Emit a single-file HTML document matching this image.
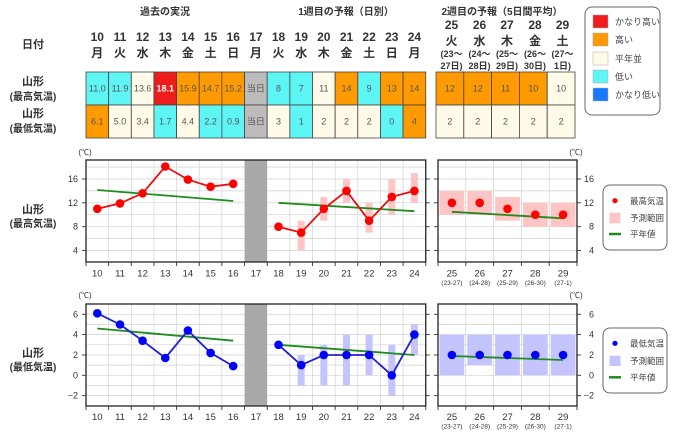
<!DOCTYPE html>
<html><head><meta charset="utf-8">
<style>
html,body{margin:0;padding:0;background:#fff;}
svg{display:block;}
text{font-family:"Liberation Sans","Noto Sans CJK JP",sans-serif;}
</style></head>
<body>
<svg width="680" height="435" viewBox="0 0 680 435" xmlns="http://www.w3.org/2000/svg">
<rect width="680" height="435" fill="#fff"/>

<!-- Section headers -->
<g font-size="10" font-weight="bold" fill="#333" text-anchor="middle">
<text x="165" y="15">過去の実況</text>
<text x="346" y="15">1週目の予報（日別）</text>
<text x="502" y="15">2週目の予報（5日間平均）</text>
</g>

<!-- Left labels top table -->
<g font-weight="bold" fill="#333" text-anchor="middle">
<text x="33" y="48" font-size="11">日付</text>
<text x="33" y="85" font-size="11">山形</text>
<text x="33" y="100" font-size="10">(最高気温)</text>
<text x="33" y="117" font-size="11">山形</text>
<text x="33" y="132" font-size="10">(最低気温)</text>
</g>

<!-- Day numbers week1 -->
<g font-size="12" font-weight="bold" fill="#333" text-anchor="middle">
<text x="97.3" y="41">10</text><text x="120" y="41">11</text><text x="142.6" y="41">12</text><text x="165.3" y="41">13</text><text x="187.9" y="41">14</text><text x="210.6" y="41">15</text><text x="233.2" y="41">16</text><text x="255.9" y="41">17</text><text x="278.5" y="41">18</text><text x="301.2" y="41">19</text><text x="323.8" y="41">20</text><text x="346.5" y="41">21</text><text x="369.1" y="41">22</text><text x="391.8" y="41">23</text><text x="414.4" y="41">24</text>
<text x="97.3" y="57">月</text><text x="120" y="57">火</text><text x="142.6" y="57">水</text><text x="165.3" y="57">木</text><text x="187.9" y="57">金</text><text x="210.6" y="57">土</text><text x="233.2" y="57">日</text><text x="255.9" y="57">月</text><text x="278.5" y="57">火</text><text x="301.2" y="57">水</text><text x="323.8" y="57">木</text><text x="346.5" y="57">金</text><text x="369.1" y="57">土</text><text x="391.8" y="57">日</text><text x="414.4" y="57">月</text>
<!-- week2 -->
<text x="451.5" y="29">25</text><text x="479.5" y="29">26</text><text x="507" y="29">27</text><text x="535" y="29">28</text><text x="562.5" y="29">29</text>
<text x="451.5" y="45">火</text><text x="479.5" y="45">水</text><text x="507" y="45">木</text><text x="535" y="45">金</text><text x="562.5" y="45">土</text>
</g>
<g font-size="9" font-weight="bold" fill="#333" text-anchor="middle">
<text x="451.5" y="57">(23〜</text><text x="479.5" y="57">(24〜</text><text x="507" y="57">(25〜</text><text x="535" y="57">(26〜</text><text x="562.5" y="57">(27〜</text>
<text x="451.5" y="69">27日)</text><text x="479.5" y="69">28日)</text><text x="507" y="69">29日)</text><text x="535" y="69">30日)</text><text x="562.5" y="69">1日)</text>
</g>

<!-- Table cells -->
<g stroke="#444" stroke-width="0.8">
<!-- row1 -->
<rect x="86" y="72" width="22.65" height="33" fill="#5ef5f5"/>
<rect x="108.65" y="72" width="22.65" height="33" fill="#5ef5f5"/>
<rect x="131.3" y="72" width="22.65" height="33" fill="#fffbe8"/>
<rect x="153.95" y="72" width="22.65" height="33" fill="#ee1c1c"/>
<rect x="176.6" y="72" width="22.65" height="33" fill="#ff9a00"/>
<rect x="199.25" y="72" width="22.65" height="33" fill="#ff9a00"/>
<rect x="221.9" y="72" width="22.65" height="33" fill="#ff9a00"/>
<rect x="244.55" y="72" width="22.65" height="33" fill="#bcbcbc"/>
<rect x="267.2" y="72" width="22.65" height="33" fill="#5ef5f5"/>
<rect x="289.85" y="72" width="22.65" height="33" fill="#5ef5f5"/>
<rect x="312.5" y="72" width="22.65" height="33" fill="#fffbe8"/>
<rect x="335.15" y="72" width="22.65" height="33" fill="#ff9a00"/>
<rect x="357.8" y="72" width="22.65" height="33" fill="#5ef5f5"/>
<rect x="380.45" y="72" width="22.65" height="33" fill="#ff9a00"/>
<rect x="403.1" y="72" width="22.65" height="33" fill="#ff9a00"/>
<!-- row2 -->
<rect x="86" y="105" width="22.65" height="33" fill="#ff9a00"/>
<rect x="108.65" y="105" width="22.65" height="33" fill="#fffbe8"/>
<rect x="131.3" y="105" width="22.65" height="33" fill="#fffbe8"/>
<rect x="153.95" y="105" width="22.65" height="33" fill="#5ef5f5"/>
<rect x="176.6" y="105" width="22.65" height="33" fill="#fffbe8"/>
<rect x="199.25" y="105" width="22.65" height="33" fill="#5ef5f5"/>
<rect x="221.9" y="105" width="22.65" height="33" fill="#5ef5f5"/>
<rect x="244.55" y="105" width="22.65" height="33" fill="#bcbcbc"/>
<rect x="267.2" y="105" width="22.65" height="33" fill="#fffbe8"/>
<rect x="289.85" y="105" width="22.65" height="33" fill="#5ef5f5"/>
<rect x="312.5" y="105" width="22.65" height="33" fill="#fffbe8"/>
<rect x="335.15" y="105" width="22.65" height="33" fill="#fffbe8"/>
<rect x="357.8" y="105" width="22.65" height="33" fill="#fffbe8"/>
<rect x="380.45" y="105" width="22.65" height="33" fill="#5ef5f5"/>
<rect x="403.1" y="105" width="22.65" height="33" fill="#ff9a00"/>
<!-- week2 -->
<rect x="436" y="72" width="27.8" height="33" fill="#ff9a00"/>
<rect x="463.8" y="72" width="27.8" height="33" fill="#ff9a00"/>
<rect x="491.6" y="72" width="27.8" height="33" fill="#ff9a00"/>
<rect x="519.4" y="72" width="27.8" height="33" fill="#ff9a00"/>
<rect x="547.2" y="72" width="27.8" height="33" fill="#fffbe8"/>
<rect x="436" y="105" width="27.8" height="33" fill="#fffbe8"/>
<rect x="463.8" y="105" width="27.8" height="33" fill="#fffbe8"/>
<rect x="491.6" y="105" width="27.8" height="33" fill="#fffbe8"/>
<rect x="519.4" y="105" width="27.8" height="33" fill="#fffbe8"/>
<rect x="547.2" y="105" width="27.8" height="33" fill="#fffbe8"/>
</g>
<g font-size="9" fill="#555" text-anchor="middle">
<text x="97.3" y="91.5">11.0</text><text x="120" y="91.5">11.9</text><text x="142.6" y="91.5">13.6</text>
<text x="165.3" y="91.5" fill="#fff" font-weight="bold">18.1</text>
<text x="187.9" y="91.5">15.9</text><text x="210.6" y="91.5">14.7</text><text x="233.2" y="91.5">15.2</text><text x="255.9" y="91.5">当日</text>
<text x="278.5" y="91.5">8</text><text x="301.2" y="91.5">7</text><text x="323.8" y="91.5">11</text><text x="346.5" y="91.5">14</text><text x="369.1" y="91.5">9</text><text x="391.8" y="91.5">13</text><text x="414.4" y="91.5">14</text>
<text x="97.3" y="124.5">6.1</text><text x="120" y="124.5">5.0</text><text x="142.6" y="124.5">3.4</text><text x="165.3" y="124.5">1.7</text><text x="187.9" y="124.5">4.4</text><text x="210.6" y="124.5">2.2</text><text x="233.2" y="124.5">0.9</text><text x="255.9" y="124.5">当日</text>
<text x="278.5" y="124.5">3</text><text x="301.2" y="124.5">1</text><text x="323.8" y="124.5">2</text><text x="346.5" y="124.5">2</text><text x="369.1" y="124.5">2</text><text x="391.8" y="124.5">0</text><text x="414.4" y="124.5">4</text>
<text x="449.9" y="91.5">12</text><text x="477.7" y="91.5">12</text><text x="505.5" y="91.5">11</text><text x="533.3" y="91.5">10</text><text x="561.1" y="91.5">10</text>
<text x="449.9" y="124.5">2</text><text x="477.7" y="124.5">2</text><text x="505.5" y="124.5">2</text><text x="533.3" y="124.5">2</text><text x="561.1" y="124.5">2</text>
</g>

<!-- Color legend -->
<rect x="585" y="7" width="75" height="108" rx="7" fill="#fff" stroke="#666" stroke-width="1"/>
<g stroke="#aaa" stroke-width="0.5">
<rect x="593" y="15" width="15" height="13" fill="#ee1c1c"/>
<rect x="593" y="33" width="15" height="13" fill="#ff9a00"/>
<rect x="593" y="52" width="15" height="13" fill="#fffbe8"/>
<rect x="593" y="70" width="15" height="13" fill="#5ef5f5"/>
<rect x="593" y="88" width="15" height="13" fill="#1a7aff"/>
</g>
<g font-size="9" fill="#444">
<text x="615" y="25">かなり高い</text>
<text x="615" y="43">高い</text>
<text x="615" y="62">平年並</text>
<text x="615" y="80">低い</text>
<text x="615" y="98">かなり低い</text>
</g>

<!-- ================= CHART 1 (max) ================= -->
<g font-weight="bold" fill="#333" text-anchor="middle">
<text x="33" y="213" font-size="11">山形</text>
<text x="33" y="227" font-size="10">(最高気温)</text>
<text x="33" y="356.5" font-size="11">山形</text>
<text x="33" y="370.5" font-size="10">(最低気温)</text>
</g>
<g font-size="8" fill="#333" text-anchor="middle">
<text x="85" y="155">(℃)</text><text x="576" y="155">(℃)</text>
<text x="85" y="298">(℃)</text><text x="576" y="298">(℃)</text>
</g>

<!-- grid week1 chart1 -->
<g stroke="#d2d2d2" stroke-width="0.7">
<line x1="86" x2="425.75" y1="167.1" y2="167.1"/><line x1="86" x2="425.75" y1="179" y2="179"/><line x1="86" x2="425.75" y1="190.9" y2="190.9"/><line x1="86" x2="425.75" y1="202.8" y2="202.8"/><line x1="86" x2="425.75" y1="214.7" y2="214.7"/><line x1="86" x2="425.75" y1="226.7" y2="226.7"/><line x1="86" x2="425.75" y1="238.6" y2="238.6"/><line x1="86" x2="425.75" y1="250.5" y2="250.5"/>
<line x1="108.65" x2="108.65" y1="160" y2="262"/><line x1="131.3" x2="131.3" y1="160" y2="262"/><line x1="153.95" x2="153.95" y1="160" y2="262"/><line x1="176.6" x2="176.6" y1="160" y2="262"/><line x1="199.25" x2="199.25" y1="160" y2="262"/><line x1="221.9" x2="221.9" y1="160" y2="262"/><line x1="289.85" x2="289.85" y1="160" y2="262"/><line x1="312.5" x2="312.5" y1="160" y2="262"/><line x1="335.15" x2="335.15" y1="160" y2="262"/><line x1="357.8" x2="357.8" y1="160" y2="262"/><line x1="380.45" x2="380.45" y1="160" y2="262"/><line x1="403.1" x2="403.1" y1="160" y2="262"/>
<!-- week2 -->
<line x1="438" x2="577" y1="167.1" y2="167.1"/><line x1="438" x2="577" y1="179" y2="179"/><line x1="438" x2="577" y1="190.9" y2="190.9"/><line x1="438" x2="577" y1="202.8" y2="202.8"/><line x1="438" x2="577" y1="214.7" y2="214.7"/><line x1="438" x2="577" y1="226.7" y2="226.7"/><line x1="438" x2="577" y1="238.6" y2="238.6"/><line x1="438" x2="577" y1="250.5" y2="250.5"/>
<line x1="465.8" x2="465.8" y1="160" y2="262"/><line x1="493.6" x2="493.6" y1="160" y2="262"/><line x1="521.4" x2="521.4" y1="160" y2="262"/><line x1="549.2" x2="549.2" y1="160" y2="262"/>
</g>
<rect x="244.55" y="160" width="22.65" height="102" fill="#a9a9a9"/>
<!-- pink ranges -->
<g fill="#ffc4c4">
<rect x="297.7" y="220.7" width="7" height="29.8"/>
<rect x="320.3" y="196.9" width="7" height="23.8"/>
<rect x="343" y="179" width="7" height="23.8"/>
<rect x="365.6" y="202.8" width="7" height="29.8"/>
<rect x="388.3" y="179" width="7" height="35.7"/>
<rect x="410.9" y="173" width="7" height="29.8"/>
<rect x="439.5" y="190.9" width="24.8" height="23.8"/>
<rect x="467.3" y="190.9" width="24.8" height="23.8"/>
<rect x="495.1" y="196.9" width="24.8" height="23.8"/>
<rect x="522.9" y="202.8" width="24.8" height="23.9"/>
<rect x="550.7" y="202.8" width="24.8" height="23.9"/>
</g>
<g stroke="#1e8c1e" stroke-width="1.8" fill="none">
<line x1="97.3" y1="190" x2="233.2" y2="201"/>
<line x1="278.5" y1="202.8" x2="414.4" y2="211.2"/>
<line x1="451.9" y1="211.8" x2="563.1" y2="218.3"/>
</g>
<g stroke="#e81010" stroke-width="1.8" fill="none">
<polyline points="97.3,208.8 120,203.4 142.6,193.3 165.3,166.5 187.9,179.6 210.6,186.7 233.2,183.8"/>
<polyline points="278.5,226.7 301.2,232.6 323.8,208.8 346.5,190.9 369.1,220.7 391.8,196.9 414.4,190.9"/>
</g>
<g fill="#ff0000">
<circle cx="97.3" cy="208.8" r="4.3"/><circle cx="120" cy="203.4" r="4.3"/><circle cx="142.6" cy="193.3" r="4.3"/><circle cx="165.3" cy="166.5" r="4.3"/><circle cx="187.9" cy="179.6" r="4.3"/><circle cx="210.6" cy="186.7" r="4.3"/><circle cx="233.2" cy="183.8" r="4.3"/>
<circle cx="278.5" cy="226.7" r="4.3"/><circle cx="301.2" cy="232.6" r="4.3"/><circle cx="323.8" cy="208.8" r="4.3"/><circle cx="346.5" cy="190.9" r="4.3"/><circle cx="369.1" cy="220.7" r="4.3"/><circle cx="391.8" cy="196.9" r="4.3"/><circle cx="414.4" cy="190.9" r="4.3"/>
<circle cx="451.9" cy="202.8" r="4.3"/><circle cx="479.7" cy="202.8" r="4.3"/><circle cx="507.5" cy="208.8" r="4.3"/><circle cx="535.3" cy="214.7" r="4.3"/><circle cx="563.1" cy="214.7" r="4.3"/>
</g>
<!-- frames & ticks chart1 -->
<g stroke="#222" stroke-width="1.3" fill="none">
<rect x="86" y="160" width="339.75" height="102"/>
<rect x="438" y="160" width="139" height="102"/>
</g>
<g stroke="#333" stroke-width="0.9">
<line x1="82" x2="86" y1="179" y2="179"/><line x1="82" x2="86" y1="202.8" y2="202.8"/><line x1="82" x2="86" y1="226.7" y2="226.7"/><line x1="82" x2="86" y1="250.5" y2="250.5"/>
<line x1="425.75" x2="429.75" y1="179" y2="179"/><line x1="425.75" x2="429.75" y1="202.8" y2="202.8"/><line x1="425.75" x2="429.75" y1="226.7" y2="226.7"/><line x1="425.75" x2="429.75" y1="250.5" y2="250.5"/>
<line x1="434" x2="438" y1="179" y2="179"/><line x1="434" x2="438" y1="202.8" y2="202.8"/><line x1="434" x2="438" y1="226.7" y2="226.7"/><line x1="434" x2="438" y1="250.5" y2="250.5"/>
<line x1="577" x2="581" y1="179" y2="179"/><line x1="577" x2="581" y1="202.8" y2="202.8"/><line x1="577" x2="581" y1="226.7" y2="226.7"/><line x1="577" x2="581" y1="250.5" y2="250.5"/>
<line x1="86" x2="86" y1="262" y2="266"/><line x1="108.65" x2="108.65" y1="262" y2="266"/><line x1="131.3" x2="131.3" y1="262" y2="266"/><line x1="153.95" x2="153.95" y1="262" y2="266"/><line x1="176.6" x2="176.6" y1="262" y2="266"/><line x1="199.25" x2="199.25" y1="262" y2="266"/><line x1="221.9" x2="221.9" y1="262" y2="266"/><line x1="244.55" x2="244.55" y1="262" y2="266"/><line x1="267.2" x2="267.2" y1="262" y2="266"/><line x1="289.85" x2="289.85" y1="262" y2="266"/><line x1="312.5" x2="312.5" y1="262" y2="266"/><line x1="335.15" x2="335.15" y1="262" y2="266"/><line x1="357.8" x2="357.8" y1="262" y2="266"/><line x1="380.45" x2="380.45" y1="262" y2="266"/><line x1="403.1" x2="403.1" y1="262" y2="266"/><line x1="425.75" x2="425.75" y1="262" y2="266"/>
<line x1="438" x2="438" y1="262" y2="266"/><line x1="465.8" x2="465.8" y1="262" y2="266"/><line x1="493.6" x2="493.6" y1="262" y2="266"/><line x1="521.4" x2="521.4" y1="262" y2="266"/><line x1="549.2" x2="549.2" y1="262" y2="266"/><line x1="577" x2="577" y1="262" y2="266"/>
</g>
<g font-size="9" fill="#333">
<g text-anchor="end">
<text x="78" y="182">16</text><text x="78" y="205.8">12</text><text x="78" y="229.7">8</text><text x="78" y="253.5">4</text>
<text x="594" y="182">16</text><text x="594" y="205.8">12</text><text x="594" y="229.7">8</text><text x="594" y="253.5">4</text>
</g>
<g text-anchor="middle" font-size="9.5">
<text x="97.3" y="276.5">10</text><text x="120" y="276.5">11</text><text x="142.6" y="276.5">12</text><text x="165.3" y="276.5">13</text><text x="187.9" y="276.5">14</text><text x="210.6" y="276.5">15</text><text x="233.2" y="276.5">16</text><text x="255.9" y="276.5">17</text><text x="278.5" y="276.5">18</text><text x="301.2" y="276.5">19</text><text x="323.8" y="276.5">20</text><text x="346.5" y="276.5">21</text><text x="369.1" y="276.5">22</text><text x="391.8" y="276.5">23</text><text x="414.4" y="276.5">24</text>
<text x="451.9" y="276.5">25</text><text x="479.7" y="276.5">26</text><text x="507.5" y="276.5">27</text><text x="535.3" y="276.5">28</text><text x="563.1" y="276.5">29</text>
</g>
<g text-anchor="middle" font-size="6.5">
<text x="451.9" y="285">(23-27)</text><text x="479.7" y="285">(24-28)</text><text x="507.5" y="285">(25-29)</text><text x="535.3" y="285">(26-30)</text><text x="563.1" y="285">(27-1)</text>
</g>
</g>
<!-- legend chart1 -->
<rect x="603" y="185" width="64" height="65" rx="7" fill="#fff" stroke="#666" stroke-width="1"/>
<circle cx="615" cy="200.7" r="2.6" fill="#ff0000"/>
<rect x="609.5" y="212.7" width="11" height="10.6" fill="#ffc4c4"/>
<line x1="609" x2="621" y1="234" y2="234" stroke="#1e8c1e" stroke-width="2.5"/>
<g font-size="8.5" fill="#444">
<text x="630" y="203.8">最高気温</text><text x="630" y="221">予測範囲</text><text x="630" y="237">平年値</text>
</g>

<!-- ================= CHART 2 (min) ================= -->
<g stroke="#d2d2d2" stroke-width="0.7">
<line x1="86" x2="425.75" y1="314.3" y2="314.3"/><line x1="86" x2="425.75" y1="324.5" y2="324.5"/><line x1="86" x2="425.75" y1="334.6" y2="334.6"/><line x1="86" x2="425.75" y1="344.8" y2="344.8"/><line x1="86" x2="425.75" y1="355" y2="355"/><line x1="86" x2="425.75" y1="365.1" y2="365.1"/><line x1="86" x2="425.75" y1="375.3" y2="375.3"/><line x1="86" x2="425.75" y1="385.5" y2="385.5"/><line x1="86" x2="425.75" y1="395.6" y2="395.6"/>
<line x1="108.65" x2="108.65" y1="304" y2="406"/><line x1="131.3" x2="131.3" y1="304" y2="406"/><line x1="153.95" x2="153.95" y1="304" y2="406"/><line x1="176.6" x2="176.6" y1="304" y2="406"/><line x1="199.25" x2="199.25" y1="304" y2="406"/><line x1="221.9" x2="221.9" y1="304" y2="406"/><line x1="289.85" x2="289.85" y1="304" y2="406"/><line x1="312.5" x2="312.5" y1="304" y2="406"/><line x1="335.15" x2="335.15" y1="304" y2="406"/><line x1="357.8" x2="357.8" y1="304" y2="406"/><line x1="380.45" x2="380.45" y1="304" y2="406"/><line x1="403.1" x2="403.1" y1="304" y2="406"/>
<line x1="438" x2="577" y1="314.3" y2="314.3"/><line x1="438" x2="577" y1="324.5" y2="324.5"/><line x1="438" x2="577" y1="334.6" y2="334.6"/><line x1="438" x2="577" y1="344.8" y2="344.8"/><line x1="438" x2="577" y1="355" y2="355"/><line x1="438" x2="577" y1="365.1" y2="365.1"/><line x1="438" x2="577" y1="375.3" y2="375.3"/><line x1="438" x2="577" y1="385.5" y2="385.5"/><line x1="438" x2="577" y1="395.6" y2="395.6"/>
<line x1="465.8" x2="465.8" y1="304" y2="406"/><line x1="493.6" x2="493.6" y1="304" y2="406"/><line x1="521.4" x2="521.4" y1="304" y2="406"/><line x1="549.2" x2="549.2" y1="304" y2="406"/>
</g>
<rect x="244.55" y="304" width="22.65" height="102" fill="#a9a9a9"/>
<g fill="#c4c4ff">
<rect x="297.7" y="355" width="7" height="30.5"/>
<rect x="320.3" y="344.8" width="7" height="40.7"/>
<rect x="343" y="334.6" width="7" height="50.9"/>
<rect x="365.6" y="334.6" width="7" height="40.7"/>
<rect x="388.3" y="344.8" width="7" height="50.8"/>
<rect x="410.9" y="324.5" width="7" height="30.5"/>
<rect x="439.5" y="334.6" width="24.8" height="40.7"/>
<rect x="467.3" y="334.6" width="24.8" height="30.5"/>
<rect x="495.1" y="334.6" width="24.8" height="40.7"/>
<rect x="522.9" y="334.6" width="24.8" height="40.7"/>
<rect x="550.7" y="334.6" width="24.8" height="40.7"/>
</g>
<g stroke="#1e8c1e" stroke-width="1.8" fill="none">
<line x1="97.3" y1="328.5" x2="233.2" y2="340.7"/>
<line x1="278.5" y1="344.8" x2="414.4" y2="355"/>
<line x1="451.9" y1="356" x2="563.1" y2="360"/>
</g>
<g stroke="#2020d0" stroke-width="1.8" fill="none">
<polyline points="97.3,313.3 120,324.5 142.6,340.7 165.3,358 187.9,330.5 210.6,352.9 233.2,366.1"/>
<polyline points="278.5,344.8 301.2,365.1 323.8,355 346.5,355 369.1,355 391.8,375.3 414.4,334.6"/>
</g>
<g fill="#0000ff">
<circle cx="97.3" cy="313.3" r="4.3"/><circle cx="120" cy="324.5" r="4.3"/><circle cx="142.6" cy="340.7" r="4.3"/><circle cx="165.3" cy="358" r="4.3"/><circle cx="187.9" cy="330.5" r="4.3"/><circle cx="210.6" cy="352.9" r="4.3"/><circle cx="233.2" cy="366.1" r="4.3"/>
<circle cx="278.5" cy="344.8" r="4.3"/><circle cx="301.2" cy="365.1" r="4.3"/><circle cx="323.8" cy="355" r="4.3"/><circle cx="346.5" cy="355" r="4.3"/><circle cx="369.1" cy="355" r="4.3"/><circle cx="391.8" cy="375.3" r="4.3"/><circle cx="414.4" cy="334.6" r="4.3"/>
<circle cx="451.9" cy="355" r="4.3"/><circle cx="479.7" cy="355" r="4.3"/><circle cx="507.5" cy="355" r="4.3"/><circle cx="535.3" cy="355" r="4.3"/><circle cx="563.1" cy="355" r="4.3"/>
</g>
<g stroke="#222" stroke-width="1.3" fill="none">
<rect x="86" y="304" width="339.75" height="102"/>
<rect x="438" y="304" width="139" height="102"/>
</g>
<g stroke="#333" stroke-width="0.9">
<line x1="82" x2="86" y1="314.3" y2="314.3"/><line x1="82" x2="86" y1="334.6" y2="334.6"/><line x1="82" x2="86" y1="355" y2="355"/><line x1="82" x2="86" y1="375.3" y2="375.3"/><line x1="82" x2="86" y1="395.6" y2="395.6"/>
<line x1="425.75" x2="429.75" y1="314.3" y2="314.3"/><line x1="425.75" x2="429.75" y1="334.6" y2="334.6"/><line x1="425.75" x2="429.75" y1="355" y2="355"/><line x1="425.75" x2="429.75" y1="375.3" y2="375.3"/><line x1="425.75" x2="429.75" y1="395.6" y2="395.6"/>
<line x1="434" x2="438" y1="314.3" y2="314.3"/><line x1="434" x2="438" y1="334.6" y2="334.6"/><line x1="434" x2="438" y1="355" y2="355"/><line x1="434" x2="438" y1="375.3" y2="375.3"/><line x1="434" x2="438" y1="395.6" y2="395.6"/>
<line x1="577" x2="581" y1="314.3" y2="314.3"/><line x1="577" x2="581" y1="334.6" y2="334.6"/><line x1="577" x2="581" y1="355" y2="355"/><line x1="577" x2="581" y1="375.3" y2="375.3"/><line x1="577" x2="581" y1="395.6" y2="395.6"/>
<line x1="86" x2="86" y1="406" y2="410"/><line x1="108.65" x2="108.65" y1="406" y2="410"/><line x1="131.3" x2="131.3" y1="406" y2="410"/><line x1="153.95" x2="153.95" y1="406" y2="410"/><line x1="176.6" x2="176.6" y1="406" y2="410"/><line x1="199.25" x2="199.25" y1="406" y2="410"/><line x1="221.9" x2="221.9" y1="406" y2="410"/><line x1="244.55" x2="244.55" y1="406" y2="410"/><line x1="267.2" x2="267.2" y1="406" y2="410"/><line x1="289.85" x2="289.85" y1="406" y2="410"/><line x1="312.5" x2="312.5" y1="406" y2="410"/><line x1="335.15" x2="335.15" y1="406" y2="410"/><line x1="357.8" x2="357.8" y1="406" y2="410"/><line x1="380.45" x2="380.45" y1="406" y2="410"/><line x1="403.1" x2="403.1" y1="406" y2="410"/><line x1="425.75" x2="425.75" y1="406" y2="410"/>
<line x1="438" x2="438" y1="406" y2="410"/><line x1="465.8" x2="465.8" y1="406" y2="410"/><line x1="493.6" x2="493.6" y1="406" y2="410"/><line x1="521.4" x2="521.4" y1="406" y2="410"/><line x1="549.2" x2="549.2" y1="406" y2="410"/><line x1="577" x2="577" y1="406" y2="410"/>
</g>
<g font-size="9" fill="#333">
<g text-anchor="end">
<text x="78" y="317.3">6</text><text x="78" y="337.6">4</text><text x="78" y="358">2</text><text x="78" y="378.3">0</text><text x="78" y="398.6">−2</text>
<text x="594" y="317.3">6</text><text x="594" y="337.6">4</text><text x="594" y="358">2</text><text x="594" y="378.3">0</text><text x="594" y="398.6">−2</text>
</g>
<g text-anchor="middle" font-size="9.5">
<text x="97.3" y="420">10</text><text x="120" y="420">11</text><text x="142.6" y="420">12</text><text x="165.3" y="420">13</text><text x="187.9" y="420">14</text><text x="210.6" y="420">15</text><text x="233.2" y="420">16</text><text x="255.9" y="420">17</text><text x="278.5" y="420">18</text><text x="301.2" y="420">19</text><text x="323.8" y="420">20</text><text x="346.5" y="420">21</text><text x="369.1" y="420">22</text><text x="391.8" y="420">23</text><text x="414.4" y="420">24</text>
<text x="451.9" y="420">25</text><text x="479.7" y="420">26</text><text x="507.5" y="420">27</text><text x="535.3" y="420">28</text><text x="563.1" y="420">29</text>
</g>
<g text-anchor="middle" font-size="6.5">
<text x="451.9" y="428.5">(23-27)</text><text x="479.7" y="428.5">(24-28)</text><text x="507.5" y="428.5">(25-29)</text><text x="535.3" y="428.5">(26-30)</text><text x="563.1" y="428.5">(27-1)</text>
</g>
</g>
<!-- legend chart2 -->
<rect x="603" y="328" width="64" height="65" rx="7" fill="#fff" stroke="#666" stroke-width="1"/>
<circle cx="615" cy="343.3" r="2.6" fill="#0000ff"/>
<rect x="609.5" y="355.7" width="11" height="10.3" fill="#c4c4ff"/>
<line x1="609" x2="621" y1="377.3" y2="377.3" stroke="#1e8c1e" stroke-width="2.5"/>
<g font-size="8.5" fill="#444">
<text x="630" y="346.5">最低気温</text><text x="630" y="364">予測範囲</text><text x="630" y="380.5">平年値</text>
</g>
</svg>
</body></html>
